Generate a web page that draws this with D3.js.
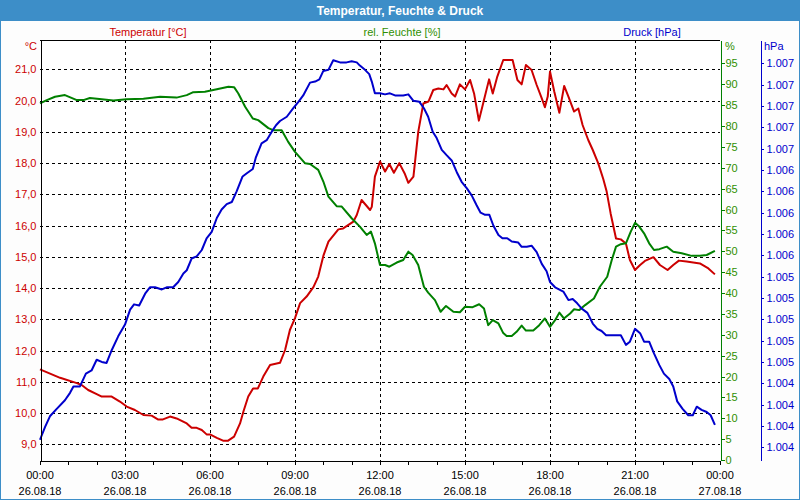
<!DOCTYPE html>
<html><head><meta charset="utf-8">
<script src="https://cdn.jsdelivr.net/npm/d3@7"></script>
<style>
html,body{margin:0;padding:0;background:#fff;}
svg{display:block;font-family:"Liberation Sans",Arial,sans-serif;}
</style></head><body>
<svg id="c" width="800" height="500"></svg>
<script>
const chartTitle = "Temperatur, Feuchte & Druck";
const seriesNames = ["Temperatur [°C]", "rel. Feuchte [%]", "Druck [hPa]"];
const unitLabels = ["°C", "%", "hPa"];
const majorHours = [0, 3, 6, 9, 12, 15, 18, 21, 24];
const timeLabels = ["00:00","03:00","06:00","09:00","12:00","15:00","18:00","21:00","00:00"];
const dateLabels = ["26.08.18","26.08.18","26.08.18","26.08.18","26.08.18","26.08.18","26.08.18","26.08.18","27.08.18"];
const tempTicks = [9,10,11,12,13,14,15,16,17,18,19,20,21];
const humTicks = [0,5,10,15,20,25,30,35,40,45,50,55,60,65,70,75,80,85,90,95];
const pressTicks = [1003.8,1004.0,1004.2,1004.4,1004.6,1004.8,1005.0,1005.2,1005.4,1005.6,1005.8,1006.0,1006.2,1006.4,1006.6,1006.8,1007.0,1007.2,1007.4];

// hours since 26.08.18 00:00
const tempTimes = [0,0.71,1.30,1.47,1.70,2.0,2.18,2.53,2.82,3.06,3.35,3.65,3.94,4.16,4.34,4.59,4.82,5.18,5.35,5.53,5.71,5.88,6.0,6.24,6.46,6.64,6.85,7.06,7.18,7.35,7.52,7.69,7.88,8.12,8.47,8.65,8.82,9.0,9.18,9.41,9.65,9.82,10.0,10.18,10.53,10.7,11.06,11.18,11.35,11.65,11.71,11.82,12.0,12.18,12.33,12.49,12.68,12.88,13.0,13.18,13.35,13.53,13.71,13.88,14.06,14.24,14.35,14.53,14.65,14.82,15.0,15.18,15.32,15.49,15.67,15.85,15.98,16.14,16.35,16.68,16.85,17.0,17.15,17.35,17.53,17.71,17.82,17.92,18.0,18.15,18.33,18.5,18.65,18.85,19.0,19.15,19.35,19.51,19.7,19.88,20.0,20.14,20.33,20.5,20.68,20.82,21.0,21.18,21.35,21.65,21.88,22.15,22.35,22.55,22.82,23.29,23.59,23.82];
const tempValues = [11.40,11.13,10.96,10.90,10.74,10.61,10.53,10.53,10.37,10.21,10.10,9.94,9.92,9.80,9.80,9.89,9.83,9.67,9.53,9.53,9.46,9.32,9.32,9.21,9.12,9.12,9.25,9.67,10.05,10.53,10.79,10.79,11.17,11.54,11.61,12.02,12.66,13.04,13.52,13.73,14.03,14.37,15.03,15.49,15.88,15.91,16.13,16.34,16.82,16.5,16.6,17.57,18.05,17.73,17.97,17.69,18.0,17.65,17.37,17.57,19.0,19.91,19.97,20.34,20.39,20.36,20.5,20.23,20.13,20.52,20.36,20.66,20.23,19.36,20.02,20.68,20.23,20.77,21.3,21.3,20.66,20.52,21.14,20.98,20.5,20.07,19.79,20.13,20.93,20.29,19.61,20.47,20.13,19.65,19.75,19.22,18.74,18.42,18.0,17.49,17.09,16.39,15.59,15.56,15.43,14.90,14.58,14.74,14.87,14.99,14.74,14.58,14.74,14.88,14.85,14.79,14.63,14.44];

const humTimes = [0,0.24,0.53,0.88,1.30,1.53,1.76,2.18,2.59,3.06,3.65,4.24,4.82,5.18,5.41,5.82,6.24,6.65,6.85,7.0,7.24,7.51,7.70,8.06,8.23,8.53,8.76,9.0,9.35,9.53,9.82,10.0,10.18,10.47,10.65,11.0,11.29,11.53,11.68,11.82,12.0,12.18,12.33,12.59,12.82,13.0,13.15,13.35,13.55,13.70,13.94,14.14,14.33,14.59,14.82,15.0,15.27,15.50,15.67,15.82,15.98,16.18,16.35,16.47,16.65,16.82,17.0,17.15,17.41,17.62,17.82,18.0,18.18,18.33,18.49,18.71,18.85,19.03,19.24,19.55,19.76,20.02,20.18,20.33,20.5,20.68,20.85,21.0,21.15,21.32,21.5,21.67,21.86,22.12,22.35,22.65,23.0,23.29,23.53,23.82];
const humValues = [85.4,86.2,87.0,87.4,86.2,86.2,86.7,86.4,86.1,86.4,86.5,87.0,86.8,87.4,88.1,88.2,88.8,89.4,89.3,87.8,84.6,81.8,81.4,79.5,79.0,79.0,76.2,73.8,71.1,70.9,69.5,66.7,63.1,60.8,60.7,57.9,55.9,53.9,54.7,51.9,46.7,46.7,46.3,47.3,47.9,49.9,49.1,46.7,41.5,40.1,38.3,35.5,36.9,35.5,35.4,36.7,36.6,37.3,36.3,32.3,33.5,32.7,30.4,29.7,29.7,30.7,32.2,31.0,31.0,32.3,33.9,31.9,33.5,35.3,33.9,35.1,36.1,35.9,37.1,38.7,41.5,43.9,47.9,51.1,51.7,51.9,54.7,56.8,55.9,54.3,51.9,50.3,50.5,51.1,49.9,49.5,48.9,48.9,49.1,50.1];

const pressTimes = [0,0.18,0.35,0.59,0.88,1.06,1.18,1.41,1.62,1.82,2.0,2.18,2.35,2.53,2.76,3.0,3.18,3.32,3.50,3.71,3.88,4.06,4.30,4.47,4.70,4.88,5.06,5.18,5.35,5.53,5.71,5.88,6.06,6.24,6.41,6.59,6.77,6.94,7.15,7.30,7.51,7.62,7.82,8.0,8.18,8.33,8.47,8.71,8.94,9.12,9.29,9.53,9.71,9.86,10.0,10.18,10.35,10.59,10.82,11.0,11.18,11.29,11.47,11.62,11.71,11.82,12.0,12.18,12.35,12.53,12.82,13.0,13.18,13.39,13.55,13.70,13.86,14.0,14.18,14.35,14.53,14.71,14.88,15.06,15.24,15.41,15.55,15.71,15.86,16.0,16.18,16.32,16.49,16.65,16.88,17.0,17.18,17.35,17.53,17.71,17.88,18.0,18.18,18.47,18.65,18.80,18.96,19.12,19.32,19.51,19.67,19.82,19.98,20.5,20.68,20.82,21.0,21.18,21.32,21.50,21.67,21.86,22.02,22.21,22.35,22.49,22.68,22.88,23.04,23.18,23.35,23.53,23.67,23.82];
const pressValues = [1003.87,1003.99,1004.09,1004.16,1004.24,1004.31,1004.37,1004.37,1004.49,1004.52,1004.62,1004.60,1004.59,1004.71,1004.84,1004.95,1005.09,1005.14,1005.13,1005.24,1005.30,1005.30,1005.28,1005.30,1005.30,1005.35,1005.43,1005.46,1005.57,1005.59,1005.65,1005.76,1005.82,1005.95,1006.03,1006.08,1006.10,1006.20,1006.34,1006.37,1006.41,1006.52,1006.65,1006.68,1006.76,1006.82,1006.86,1006.90,1006.98,1007.04,1007.10,1007.22,1007.23,1007.25,1007.33,1007.34,1007.43,1007.41,1007.41,1007.42,1007.41,1007.38,1007.34,1007.30,1007.23,1007.12,1007.12,1007.11,1007.12,1007.10,1007.10,1007.11,1007.05,1007.04,1006.98,1006.90,1006.76,1006.70,1006.59,1006.54,1006.49,1006.38,1006.29,1006.23,1006.16,1006.07,1006.00,1005.98,1005.98,1005.88,1005.79,1005.76,1005.76,1005.73,1005.72,1005.68,1005.68,1005.69,1005.63,1005.52,1005.45,1005.35,1005.30,1005.26,1005.18,1005.19,1005.15,1005.10,1005.06,1004.96,1004.91,1004.89,1004.85,1004.85,1004.76,1004.79,1004.91,1004.87,1004.79,1004.79,1004.68,1004.57,1004.49,1004.44,1004.37,1004.23,1004.16,1004.10,1004.10,1004.18,1004.15,1004.13,1004.10,1004.01];

const C = {frame:"#3d8ec8", red:"#cc0000", green:"#008000", greenTxt:"#2f8f00", blue:"#0000cc"};
const L = 40, R = 720, T = 40, B = 460;
const de = d3.formatLocale({decimal:",", thousands:".", grouping:[3], currency:["","€"]});

const svg = d3.select("#c");
svg.append("rect").attr("width",800).attr("height",500).attr("fill","#fdfdfd");
svg.append("rect").attr("x",0.5).attr("y",0.5).attr("width",799).attr("height",499).attr("fill","none").attr("stroke",C.frame);
svg.append("rect").attr("x",0).attr("y",0).attr("width",800).attr("height",21).attr("fill",C.frame);
svg.append("text").attr("x",400).attr("y",14.5).attr("text-anchor","middle").attr("fill","#fff")
  .attr("font-weight","bold").attr("font-size",12).text(chartTitle);

const x = d3.scaleLinear().domain([0,24]).range([L,R]);
const yT = d3.scaleLinear().domain([8.5,21.94]).range([B,T]);
const yH = d3.scaleLinear().domain([0,100.6]).range([B,T]);
const yP = d3.scaleLinear().domain([1003.68,1007.62]).range([B,T]);

svg.append("rect").attr("x",L).attr("y",T).attr("width",R-L).attr("height",B-T).attr("fill","#fff");

// grid
const grid = svg.append("g").attr("stroke","#000").attr("stroke-dasharray","3,3").attr("shape-rendering","crispEdges");
grid.selectAll("line.h").data(tempTicks).join("line").attr("class","h")
  .attr("x1",L).attr("x2",R).attr("y1",d=>Math.round(yT(d))+0.5).attr("y2",d=>Math.round(yT(d))+0.5);
grid.selectAll("line.v").data(majorHours.slice(1,-1)).join("line").attr("class","v")
  .attr("x1",d=>Math.round(x(d))+0.5).attr("x2",d=>Math.round(x(d))+0.5).attr("y1",T).attr("y2",B+3);

// frame top
svg.append("line").attr("x1",L).attr("x2",R).attr("y1",T+0.5).attr("y2",T+0.5).attr("stroke","#000").attr("shape-rendering","crispEdges");

// series lines
function drawLine(times, vals, yScale, color){
  const data = times.map((t,i)=>[t, vals[i]]);
  svg.append("path").datum(data)
    .attr("d", d3.line().x(d=>x(d[0])).y(d=>yScale(d[1])))
    .attr("fill","none").attr("stroke",color).attr("stroke-width",2)
    .attr("stroke-linejoin","round");
}
drawLine(tempTimes, tempValues, yT, C.red);
drawLine(humTimes, humValues, yH, C.green);
drawLine(pressTimes, pressValues, yP, C.blue);

// left axis (temperature)
const axL = svg.append("g").attr("transform",`translate(${L+0.5},0)`)
  .call(d3.axisLeft(yT).tickValues(tempTicks).tickSize(0).tickPadding(4).tickFormat(de.format(".1f")));
axL.select(".domain").attr("stroke","#000").attr("shape-rendering","crispEdges");
axL.selectAll("text").attr("fill",C.red).attr("font-size",11).attr("font-family","Liberation Sans, Arial, sans-serif");

// right axis (humidity)
const axH = svg.append("g").attr("transform",`translate(${R+0.5},0)`)
  .call(d3.axisRight(yH).tickValues(humTicks).tickSize(4).tickSizeOuter(0).tickPadding(1).tickFormat(d3.format("d")));
axH.selectAll("path,line").attr("stroke",C.green).attr("shape-rendering","crispEdges");
axH.selectAll("text").attr("fill",C.greenTxt).attr("font-size",11).attr("font-family","Liberation Sans, Arial, sans-serif");

// pressure axis
const axP = svg.append("g").attr("transform",`translate(760.5,0)`)
  .call(d3.axisRight(yP).tickValues(pressTicks).tickSize(3).tickSizeOuter(0).tickPadding(3).tickFormat(de.format(",.0f")));
axP.selectAll("path,line").attr("stroke",C.blue).attr("shape-rendering","crispEdges");
axP.selectAll("text").attr("fill",C.blue).attr("font-size",11).attr("font-family","Liberation Sans, Arial, sans-serif");

// bottom axis
const axB = svg.append("g").attr("transform",`translate(0,${B+0.5})`)
  .call(d3.axisBottom(x).tickValues(d3.range(0,25,1)).tickSize(4).tickSizeOuter(0).tickFormat(""));
axB.selectAll("path,line").attr("stroke","#000").attr("shape-rendering","crispEdges");
const lbl = svg.append("g").attr("font-size",11).attr("fill","#000").attr("text-anchor","middle");
lbl.selectAll("text.t").data(majorHours).join("text").attr("class","t")
  .attr("x",d=>x(d)).attr("y",479).text((d,i)=>timeLabels[i]);
lbl.selectAll("text.d").data(majorHours).join("text").attr("class","d")
  .attr("x",d=>x(d)).attr("y",495).text((d,i)=>dateLabels[i]);

// unit labels
svg.append("text").attr("x",37).attr("y",50).attr("text-anchor","end").attr("font-size",11).attr("fill",C.red).text(unitLabels[0]);
svg.append("text").attr("x",725).attr("y",50).attr("font-size",11).attr("fill",C.greenTxt).text(unitLabels[1]);
svg.append("text").attr("x",764).attr("y",50).attr("font-size",11).attr("fill",C.blue).text(unitLabels[2]);

// legend titles
const legX = [148, 402, 652], legC = [C.red, C.greenTxt, C.blue];
svg.selectAll("text.leg").data(seriesNames).join("text").attr("class","leg")
  .attr("x",(d,i)=>legX[i]).attr("y",36).attr("text-anchor","middle").attr("font-size",11)
  .attr("fill",(d,i)=>legC[i]).text(d=>d);
</script>
</body></html>
